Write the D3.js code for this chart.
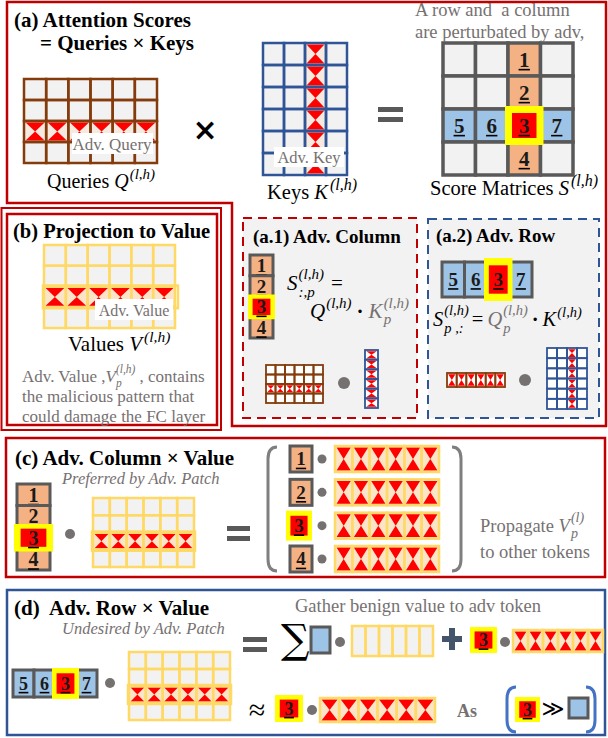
<!DOCTYPE html>
<html>
<head>
<meta charset="utf-8">
<script src="https://cdn.jsdelivr.net/npm/d3@7"></script>
</head>
<body style="margin:0">
<div id="canvas"></div>
<script>
// ----------------------------------------------------------
// DATA -----------------------------------------------------
// ----------------------------------------------------------
var col_tokens = ["1", "2", "3", "4"];   // adv column of S (one per query token)
var row_tokens = ["5", "6", "3", "7"];   // adv row of S (one per key token)
var adv_index = 2;                        // position p of the adv patch token
var query_shape = [6, 4];                 // cols, rows
var key_shape = [4, 6];
var value_shape = [6, 4];
var score_shape = [4, 4];

// ----------------------------------------------------------
// STYLE ----------------------------------------------------
// ----------------------------------------------------------
var C = {
  red: "#c00000", blue: "#2f5597", brown: "#843c0c", vline: "#ffd966",
  cell: "#f2f2f2", orange: "#f4b183", lblue: "#9dc3e6", tok: "#595959",
  adv: "#ff0000", hl: "#ffff00", gray: "#767171", beige: "#fbe5c8",
  dot: "#767171", plus: "#44546a", paren: "#4472c4"
};
var serif = "Liberation Serif";
var sp = "\u00a0";

var svg = d3.select("#canvas").append("svg")
  .attr("width", 608)
  .attr("height", 738);

svg.append("rect").attr("width", 608).attr("height", 738).attr("fill", "#fff");
var layout_group = svg.append("g");
var gfx = svg.append("g");
var text_group = svg.append("g");

// ----------------------------------------------------------
// HELPERS --------------------------------------------------
// ----------------------------------------------------------
function txt(g, x, y, s, o) {
  o = o || {};
  var t = g.append("text")
    .attr("x", x).attr("y", y)
    .attr("font-family", o.font || serif)
    .attr("font-size", (o.fs || 17))
    .attr("fill", o.fill || "#000")
    .text(s);
  if (o.anchor) t.attr("text-anchor", o.anchor);
  if (o.b) t.attr("font-weight", "bold");
  if (o.it) t.attr("font-style", "italic");
  return t;
}

// inline text with sup / sub parts, laid out one after another
function rich(g, x, y, parts, anchor) {
  var grp = g.append("g");
  var cx = 0, lastX = 0;
  parts.forEach(function(p) {
    var px = p.back ? lastX : cx;
    var t = txt(grp, px, p.dy || 0, p.t, p);
    var w = t.node().getComputedTextLength();
    lastX = px;
    cx = Math.max(cx, px + w + (p.gap || 0));
  });
  var off = anchor === "middle" ? -cx / 2 : 0;
  grp.attr("transform", "translate(" + (x + off) + "," + y + ")");
  return grp;
}

function hourglass(x, y, w, h) {
  return "M" + x + "," + y + "H" + (x + w) + "L" + (x + w / 2) + "," + (y + h / 2) + "Z" +
    "M" + x + "," + (y + h) + "H" + (x + w) + "L" + (x + w / 2) + "," + (y + h / 2) + "Z";
}

// matrix of cells, adv row / column filled with the malicious pattern
function grid(g, o) {
  var xs = d3.scaleBand().domain(d3.range(o.cols)).range([o.x, o.x + o.w]);
  var ys = d3.scaleBand().domain(d3.range(o.rows)).range([o.y, o.y + o.h]);
  var cells = [];
  d3.range(o.rows).forEach(function(r) {
    d3.range(o.cols).forEach(function(c) {
      cells.push({ r: r, c: c, adv: r === o.advRow || c === o.advCol });
    });
  });
  var gg = g.append("g");
  gg.selectAll("rect.cell").data(cells).enter().append("rect")
    .attr("class", "cell")
    .attr("x", function(d) { return xs(d.c); })
    .attr("y", function(d) { return ys(d.r); })
    .attr("width", xs.bandwidth())
    .attr("height", ys.bandwidth())
    .attr("fill", function(d) { return d.adv ? (o.advBg || o.fill) : o.fill; });
  var s = o.sw / 2 + 0.3;
  gg.selectAll("path.hg").data(cells.filter(function(d) { return d.adv; })).enter().append("path")
    .attr("class", "hg")
    .attr("d", function(d) {
      return hourglass(xs(d.c) + s, ys(d.r) + s, xs.bandwidth() - 2 * s, ys.bandwidth() - 2 * s);
    })
    .attr("fill", C.adv);
  gg.selectAll("rect.line").data(cells).enter().append("rect")
    .attr("class", "line")
    .attr("x", function(d) { return xs(d.c); })
    .attr("y", function(d) { return ys(d.r); })
    .attr("width", xs.bandwidth())
    .attr("height", ys.bandwidth())
    .attr("fill", "none")
    .attr("stroke", o.stroke)
    .attr("stroke-width", o.sw);
  if (o.outline && o.advRow != null) {
    gg.append("rect")
      .attr("x", o.x - 1).attr("y", ys(o.advRow) - 1)
      .attr("width", o.w + o.outline).attr("height", ys.bandwidth() + 2)
      .attr("fill", "none").attr("stroke", o.stroke).attr("stroke-width", o.sw);
  }
  return { xs: xs, ys: ys };
}

function tokenLabel(g, cx, cy, label, fs) {
  txt(g, cx, cy + fs * 0.34, label, { fs: fs, b: true, anchor: "middle", fill: "#1a1a1a" });
  g.append("line")
    .attr("x1", cx - fs * 0.27).attr("x2", cx + fs * 0.27)
    .attr("y1", cy + fs * 0.34 + 3).attr("y2", cy + fs * 0.34 + 3)
    .attr("stroke", "#000").attr("stroke-width", 1.6);
}

function tokenBox(g, x, y, w, h, label, kind, fs) {
  if (kind === "adv") {
    g.append("rect").attr("x", x).attr("y", y).attr("width", w).attr("height", h).attr("fill", C.hl);
    var ix = w * 0.17, iy = h * 0.17;
    g.append("rect").attr("x", x + ix).attr("y", y + iy)
      .attr("width", w - 2 * ix).attr("height", h - 2 * iy).attr("fill", C.adv);
  } else {
    g.append("rect").attr("x", x).attr("y", y).attr("width", w).attr("height", h)
      .attr("fill", kind === "col" ? C.orange : C.lblue)
      .attr("stroke", C.tok).attr("stroke-width", 3);
  }
  if (label) tokenLabel(g, x + w / 2, y + h / 2, label, fs);
}

function tokenVector(g, o) {
  var v = o.dir === "v";
  var s = d3.scaleBand().domain(d3.range(o.labels.length)).range(v ? [o.y, o.y + o.h] : [o.x, o.x + o.w]);
  var order = d3.range(o.labels.length).sort(function(a, b) { return (a === adv_index) - (b === adv_index); });
  order.forEach(function(i) {
    var x = v ? o.x : s(i), y = v ? s(i) : o.y;
    var w = v ? o.w : s.bandwidth(), h = v ? s.bandwidth() : o.h;
    if (i === adv_index) tokenBox(g, x - o.px, y - o.py, w + 2 * o.px, h + 2 * o.py, o.labels[i], "adv", o.fs);
    else tokenBox(g, x, y, w, h, o.labels[i], o.kind, o.fs);
  });
}

function dot(g, x, y, r) {
  g.append("circle").attr("cx", x).attr("cy", y).attr("r", r || 5).attr("fill", C.dot);
}

function eqBars(g, x, y, w) {
  g.append("rect").attr("x", x).attr("y", y).attr("width", w).attr("height", 5).attr("fill", C.tok);
  g.append("rect").attr("x", x).attr("y", y + 10).attr("width", w).attr("height", 5).attr("fill", C.tok);
}

function paren(g, x, y0, y1, side, color, sw) {
  var d = side < 0 ?
    "M" + (x + 9) + "," + y0 + " Q" + x + "," + y0 + " " + x + "," + (y0 + 12) + " V" + (y1 - 12) + " Q" + x + "," + y1 + " " + (x + 9) + "," + y1 :
    "M" + (x - 9) + "," + y0 + " Q" + x + "," + y0 + " " + x + "," + (y0 + 12) + " V" + (y1 - 12) + " Q" + x + "," + y1 + " " + (x - 9) + "," + y1;
  g.append("path").attr("d", d).attr("fill", "none").attr("stroke", color).attr("stroke-width", sw);
}

// ----------------------------------------------------------
// LAYOUT ---------------------------------------------------
// ----------------------------------------------------------
// (a) outline, L-shaped round (a), (a.1), (a.2)
layout_group.append("path")
  .attr("d", "M7,2 H606 V426 H232 V203 H7 Z")
  .attr("fill", "none").attr("stroke", C.red).attr("stroke-width", 2.5);
// (b) double box
layout_group.append("rect").attr("x", 1.5).attr("y", 208).attr("width", 219.5).attr("height", 222)
  .attr("fill", "none").attr("stroke", C.red).attr("stroke-width", 2);
layout_group.append("rect").attr("x", 7).attr("y", 214).attr("width", 210).attr("height", 211)
  .attr("fill", "none").attr("stroke", C.red).attr("stroke-width", 2.5);
// (a.1) and (a.2) dashed
layout_group.append("rect").attr("x", 243).attr("y", 218).attr("width", 174).attr("height", 200)
  .attr("fill", C.cell).attr("stroke", C.red).attr("stroke-width", 2).attr("stroke-dasharray", "9,6");
layout_group.append("rect").attr("x", 428).attr("y", 219).attr("width", 171).attr("height", 199)
  .attr("fill", C.cell).attr("stroke", C.blue).attr("stroke-width", 2).attr("stroke-dasharray", "9,6");
// (c)
layout_group.append("rect").attr("x", 6).attr("y", 438).attr("width", 599).attr("height", 139)
  .attr("fill", "none").attr("stroke", C.red).attr("stroke-width", 2.5);
// (d)
layout_group.append("rect").attr("x", 7).attr("y", 590).attr("width", 598).attr("height", 145)
  .attr("fill", "none").attr("stroke", C.blue).attr("stroke-width", 2.5);

// ----------------------------------------------------------
// GFX (a) --------------------------------------------------
// ----------------------------------------------------------
grid(gfx, { x: 24, y: 79, w: 133, h: 84, cols: query_shape[0], rows: query_shape[1],
  fill: C.cell, advBg: "#f6e9e0", stroke: C.brown, sw: 2.5, advRow: adv_index });
gfx.append("rect").attr("x", 72).attr("y", 133).attr("width", 81).attr("height", 21).attr("fill", "#fff");
txt(text_group, 112, 150, "Adv. Query", { fs: 17, fill: C.gray, anchor: "middle" });

txt(text_group, 205, 140, "\u00d7", { fs: 30, b: true, anchor: "middle", font: "DejaVu Sans" });

grid(gfx, { x: 263, y: 43, w: 84, h: 132, cols: key_shape[0], rows: key_shape[1],
  fill: C.cell, advBg: "#f6e9e0", stroke: C.blue, sw: 2.5, advCol: adv_index });
gfx.append("rect").attr("x", 274).attr("y", 147).attr("width", 70).attr("height", 20).attr("fill", "#fff");
txt(text_group, 309, 163, "Adv. Key", { fs: 16.5, fill: C.gray, anchor: "middle" });

eqBars(gfx, 378, 107, 25);

// score matrix
var sx = d3.scaleBand().domain(d3.range(score_shape[0])).range([443, 573]);
var sy = d3.scaleBand().domain(d3.range(score_shape[1])).range([43, 175]);
var score_cells = [];
d3.range(score_shape[1]).forEach(function(r) {
  d3.range(score_shape[0]).forEach(function(c) { score_cells.push({ r: r, c: c }); });
});
gfx.selectAll("rect.score").data(score_cells).enter().append("rect")
  .attr("class", "score")
  .attr("x", function(d) { return sx(d.c); })
  .attr("y", function(d) { return sy(d.r); })
  .attr("width", sx.bandwidth()).attr("height", sy.bandwidth())
  .attr("fill", function(d) { return d.c === adv_index ? C.orange : d.r === adv_index ? C.lblue : C.cell; })
  .attr("stroke", C.tok).attr("stroke-width", 3.5);
score_cells.forEach(function(d) {
  if (d.r === adv_index && d.c === adv_index) return;
  if (d.c === adv_index) tokenLabel(gfx, sx(d.c) + sx.bandwidth() / 2, sy(d.r) + sy.bandwidth() / 2, col_tokens[d.r], 21);
  else if (d.r === adv_index) tokenLabel(gfx, sx(d.c) + sx.bandwidth() / 2, sy(d.r) + sy.bandwidth() / 2, row_tokens[d.c], 21);
});
(function() {
  var x = sx(adv_index) - 3, y = sy(adv_index) - 3, w = sx.bandwidth() + 6, h = sy.bandwidth() + 6;
  gfx.append("rect").attr("x", x).attr("y", y).attr("width", w).attr("height", h).attr("fill", C.hl);
  gfx.append("rect").attr("x", x + 7).attr("y", y + 7).attr("width", w - 14).attr("height", h - 14).attr("fill", C.adv);
  tokenLabel(gfx, x + w / 2, y + h / 2, col_tokens[adv_index], 21);
})();

// titles and captions (a)
txt(text_group, 14, 27, "(a) Attention Scores", { fs: 21, b: true });
txt(text_group, 40, 50, "= Queries \u00d7 Keys", { fs: 21, b: true });
txt(text_group, 415, 16, "A row and" + sp + " a column", { fs: 18.5, fill: C.gray });
txt(text_group, 415, 38, "are perturbated by adv,", { fs: 18.5, fill: C.gray });
rich(text_group, 47, 188, [
  { t: "Queries" + sp, fs: 20 }, { t: "Q", fs: 20, it: true, gap: 1 }, { t: "(l,h)", fs: 15, it: true, dy: -9 }
]);
rich(text_group, 267, 199, [
  { t: "Keys" + sp, fs: 20.5 }, { t: "K", fs: 20.5, it: true, gap: 2 }, { t: "(l,h)", fs: 16, it: true, dy: -9 }
]);
rich(text_group, 430, 195, [
  { t: "Score Matrices" + sp, fs: 20.5 }, { t: "S", fs: 20.5, it: true, gap: 2 }, { t: "(l,h)", fs: 16, it: true, dy: -9 }
]);

// ----------------------------------------------------------
// GFX (b) --------------------------------------------------
// ----------------------------------------------------------
txt(text_group, 13, 238, "(b) Projection to Value", { fs: 20.5, b: true });
grid(gfx, { x: 44, y: 245, w: 131, h: 83, cols: value_shape[0], rows: value_shape[1],
  fill: C.cell, advBg: C.beige, stroke: C.vline, sw: 2.5, advRow: adv_index, outline: 4 });
gfx.append("rect").attr("x", 95).attr("y", 299).attr("width", 78).attr("height", 21).attr("fill", "#fff");
txt(text_group, 134, 316, "Adv. Value", { fs: 16, fill: C.gray, anchor: "middle" });
rich(text_group, 68, 351, [
  { t: "Values" + sp, fs: 21 }, { t: "V", fs: 21, it: true, gap: 2 }, { t: "(l,h)", fs: 15.5, it: true, dy: -9 }
]);
rich(text_group, 22, 382, [
  { t: "Adv. Value ,", fs: 17, fill: C.gray }, { t: "V", fs: 17, it: true, fill: C.gray },
  { t: "(l,h)", fs: 11.5, it: true, dy: -9, fill: C.gray, gap: 4 }, { t: "p", fs: 11.5, it: true, dy: 5, back: true, fill: C.gray },
  { t: ", contains", fs: 17, fill: C.gray }
]);
txt(text_group, 22, 402, "the malicious pattern that", { fs: 17, fill: C.gray });
txt(text_group, 22, 422, "could damage the FC layer", { fs: 17, fill: C.gray });

// ----------------------------------------------------------
// GFX (a.1) ------------------------------------------------
// ----------------------------------------------------------
txt(text_group, 253, 243, "(a.1) Adv. Column", { fs: 19, b: true });
tokenVector(gfx, { dir: "v", x: 250, y: 255, w: 23, h: 83, labels: col_tokens, kind: "col", fs: 19, px: 2, py: 2 });
rich(text_group, 287, 290, [
  { t: "S", fs: 21, it: true, gap: 1 }, { t: "(l,h)", fs: 15, it: true, dy: -11, gap: 7 },
  { t: ":,p", fs: 15, it: true, dy: 7, back: true }, { t: "=", fs: 21 }
]);
rich(text_group, 310, 318, [
  { t: "Q", fs: 21, it: true, gap: 1 }, { t: "(l,h)", fs: 15, it: true, dy: -10, gap: 5 }, { t: "\u00b7", fs: 21, b: true, gap: 5 },
  { t: "K", fs: 21, it: true, fill: C.gray, gap: 1 }, { t: "(l,h)", fs: 15, it: true, dy: -10, fill: C.gray },
  { t: "p", fs: 15, it: true, dy: 6, back: true, fill: C.gray }
]);
grid(gfx, { x: 266, y: 365, w: 57, h: 38, cols: query_shape[0], rows: query_shape[1],
  fill: "#fff", advBg: "#fff", stroke: C.brown, sw: 1.8, advRow: adv_index });
dot(gfx, 344, 383, 6);
grid(gfx, { x: 365, y: 350, w: 13, h: 58, cols: 1, rows: key_shape[1],
  fill: "#fff", advBg: "#fff", stroke: C.blue, sw: 1.8, advCol: 0 });

// ----------------------------------------------------------
// GFX (a.2) ------------------------------------------------
// ----------------------------------------------------------
txt(text_group, 436, 242, "(a.2) Adv. Row", { fs: 19, b: true });
tokenVector(gfx, { dir: "h", x: 442, y: 262, w: 90, h: 35, labels: row_tokens, kind: "row", fs: 19, px: 3, py: 4 });
rich(text_group, 433, 326, [
  { t: "S", fs: 20.5, it: true, gap: 1 }, { t: "(l,h)", fs: 14.5, it: true, dy: -11, gap: 3 },
  { t: "p ,:", fs: 14.5, it: true, dy: 7, back: true, gap: 4 }, { t: "=", fs: 20.5, gap: 4 },
  { t: "Q", fs: 20.5, it: true, fill: C.gray, gap: 1 }, { t: "(l,h)", fs: 14.5, it: true, dy: -11, fill: C.gray, gap: 4 },
  { t: "p", fs: 14.5, it: true, dy: 7, back: true, fill: C.gray }, { t: "\u00b7", fs: 20.5, b: true, gap: 4 },
  { t: "K", fs: 20.5, it: true, gap: 1 }, { t: "(l,h)", fs: 14.5, it: true, dy: -9 }
]);
grid(gfx, { x: 447, y: 373, w: 58, h: 14, cols: query_shape[0], rows: 1,
  fill: "#fff", advBg: "#fff", stroke: C.brown, sw: 1.8, advRow: 0 });
dot(gfx, 525, 380, 6);
grid(gfx, { x: 547, y: 348, w: 40, h: 61, cols: key_shape[0], rows: key_shape[1],
  fill: "#fff", advBg: "#fff", stroke: C.blue, sw: 1.8, advCol: adv_index });

// ----------------------------------------------------------
// GFX (c) --------------------------------------------------
// ----------------------------------------------------------
txt(text_group, 15, 465, "(c) Adv. Column \u00d7 Value", { fs: 21, b: true });
txt(text_group, 62, 484, "Preferred by Adv. Patch", { fs: 16.5, it: true, fill: C.gray });
tokenVector(gfx, { dir: "v", x: 17, y: 484, w: 33, h: 86, labels: col_tokens, kind: "col", fs: 20, px: 3, py: 3 });
dot(gfx, 70, 534, 5);
grid(gfx, { x: 93, y: 498, w: 101, h: 69, cols: value_shape[0], rows: value_shape[1],
  fill: C.cell, advBg: C.beige, stroke: C.vline, sw: 2.5, advRow: adv_index, outline: 2 });
eqBars(gfx, 227, 526, 23);
paren(gfx, 268, 447, 571, -1, "#7f7f7f", 3);
paren(gfx, 461, 447, 571, 1, "#7f7f7f", 3);

var c_rows = d3.scaleBand().domain(d3.range(col_tokens.length)).range([446, 572]).paddingInner(0.22);
col_tokens.forEach(function(l, i) {
  var y = c_rows(i), h = c_rows.bandwidth();
  if (i === adv_index) tokenBox(gfx, 286, y - 2, 26, h + 4, l, "adv", 19);
  else tokenBox(gfx, 290, y, 22, h, l, "col", 19);
  dot(gfx, 322, y + h / 2, 4.5);
  grid(gfx, { x: 335, y: y, w: 104, h: h, cols: value_shape[0], rows: 1,
    fill: C.beige, advBg: C.beige, stroke: C.vline, sw: 2.5, advRow: 0 });
});
rich(text_group, 480, 532, [
  { t: "Propagate" + sp, fs: 18.5, fill: C.gray }, { t: "V", fs: 18.5, it: true, fill: C.gray, gap: 1 },
  { t: "(l)", fs: 14, it: true, dy: -10, fill: C.gray }, { t: "p", fs: 14, it: true, dy: 6, back: true, fill: C.gray }
]);
txt(text_group, 480, 558, "to other tokens", { fs: 18.5, fill: C.gray });

// ----------------------------------------------------------
// GFX (d) --------------------------------------------------
// ----------------------------------------------------------
txt(text_group, 14, 615, "(d)" + sp + " Adv. Row \u00d7 Value", { fs: 21, b: true });
txt(text_group, 62, 634, "Undesired by Adv. Patch", { fs: 16.5, it: true, fill: C.gray });
tokenVector(gfx, { dir: "h", x: 13, y: 670, w: 84, h: 27, labels: row_tokens, kind: "row", fs: 18, px: 3, py: 2 });
dot(gfx, 110, 683, 5);
grid(gfx, { x: 129, y: 652, w: 101, h: 68, cols: value_shape[0], rows: value_shape[1],
  fill: C.cell, advBg: C.beige, stroke: C.vline, sw: 2.5, advRow: adv_index, outline: 2 });
eqBars(gfx, 243, 637, 24);

txt(text_group, 295, 612, "Gather benign value to adv token", { fs: 18.5, fill: C.gray });
txt(text_group, 281, 653, "\u2211", { fs: 40, font: "DejaVu Serif" });
tokenBox(gfx, 311, 627, 19, 26, null, "row", 17);
dot(gfx, 340, 642, 5);
grid(gfx, { x: 352, y: 626, w: 81, h: 30, cols: value_shape[0], rows: 1,
  fill: C.cell, stroke: C.vline, sw: 2.5 });
gfx.append("rect").attr("x", 442).attr("y", 636).attr("width", 20).attr("height", 6).attr("fill", C.plus);
gfx.append("rect").attr("x", 449).attr("y", 628).attr("width", 6).attr("height", 22).attr("fill", C.plus);
tokenBox(gfx, 470, 627, 27, 26, row_tokens[adv_index], "adv", 18);
dot(gfx, 505, 642, 5);
grid(gfx, { x: 513, y: 630, w: 90, h: 22, cols: value_shape[0], rows: 1,
  fill: C.beige, advBg: C.beige, stroke: C.vline, sw: 2.5, advRow: 0 });

txt(text_group, 257, 720, "\u2248", { fs: 30, anchor: "middle" });
tokenBox(gfx, 275, 695, 28, 27, row_tokens[adv_index], "adv", 18);
dot(gfx, 312, 710, 5);
grid(gfx, { x: 320, y: 698, w: 115, h: 24, cols: value_shape[0], rows: 1,
  fill: C.beige, advBg: C.beige, stroke: C.vline, sw: 2.5, advRow: 0 });
txt(text_group, 457, 717, "As", { fs: 18, b: true, fill: C.gray });
paren(gfx, 507, 687, 732, -1, C.paren, 3);
tokenBox(gfx, 515, 697, 25, 25, row_tokens[adv_index], "adv", 18);
txt(text_group, 553, 716, "\u226b", { fs: 22, anchor: "middle", font: "DejaVu Sans" });
tokenBox(gfx, 569, 698, 19, 20, null, "row", 17);
paren(gfx, 595, 687, 732, 1, C.paren, 3);
</script>
</body>
</html>
